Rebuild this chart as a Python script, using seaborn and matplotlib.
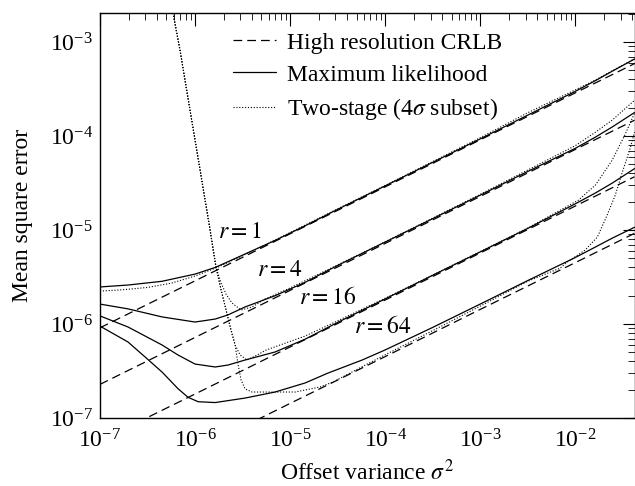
import numpy as np
import matplotlib
matplotlib.use("Agg")
import matplotlib.pyplot as plt
from matplotlib.lines import Line2D
from matplotlib.ticker import LogLocator, NullFormatter
import seaborn as sns

# ---------------- data ----------------
X_TAIL = [3.16e-5, 1.0e-4, 3.16e-4, 1.0e-3, 3.16e-3, 1.0e-2, 1.63e-2, 2.45e-2, 4.2e-2]

ML_R1_X = [1.0e-7, 1.97e-7, 4.5e-7, 1.0e-6, 1.63e-6, 3.36e-6, 6.95e-6, 1.44e-5] + X_TAIL
ML_R1 = [2.48e-6, 2.6e-6, 2.85e-6, 3.40e-6, 4.0e-6, 5.56e-6, 7.75e-6, 1.11e-5,
         1.66e-5, 2.95e-5, 5.25e-5, 9.33e-5, 1.67e-4, 2.99e-4, 3.89e-4, 4.9e-4, 6.6e-4]
ML_R4_X = [1.0e-7, 1.97e-7, 4.5e-7, 1.0e-6, 1.63e-6, 2.22e-6, 3.36e-6, 6.95e-6, 1.44e-5] + X_TAIL
ML_R4 = [1.63e-6, 1.45e-6, 1.19e-6, 1.05e-6, 1.13e-6, 1.25e-6, 1.52e-6, 2.0e-6, 2.78e-6,
         4.2e-6, 7.45e-6, 1.32e-5, 2.35e-5, 4.2e-5, 7.4e-5, 9.75e-5, 1.25e-4, 1.78e-4]
ML_R16_X = [1.0e-7, 1.97e-7, 4.5e-7, 6.62e-7, 1.0e-6, 1.63e-6, 2.22e-6, 3.36e-6, 6.95e-6,
            1.44e-5] + X_TAIL
ML_R16 = [1.22e-6, 9.3e-7, 5.98e-7, 4.68e-7, 3.75e-7, 3.49e-7, 3.66e-7, 4.14e-7, 5.04e-7,
          6.9e-7, 1.04e-6, 1.85e-6, 3.3e-6, 5.85e-6, 1.04e-5, 1.9e-5, 2.48e-5, 3.16e-5, 4.5e-5]
ML_R64_X = [1.0e-7, 1.97e-7, 2.98e-7, 4.5e-7, 6.62e-7, 8.44e-7, 1.08e-6, 1.63e-6, 3.36e-6,
            6.95e-6, 1.44e-5, 2.51e-5, 5.73e-5, 1.0e-4, 3.16e-4, 1.0e-3, 3.16e-3, 1.0e-2,
            1.63e-2, 2.45e-2, 4.2e-2]
ML_R64 = [9.5e-7, 6.44e-7, 4.46e-7, 3.08e-7, 2.05e-7, 1.66e-7, 1.49e-7, 1.46e-7, 1.63e-7,
          1.89e-7, 2.36e-7, 3.01e-7, 4.14e-7, 5.3e-7, 9.2e-7, 1.63e-6, 2.9e-6, 5.1e-6,
          6.6e-6, 8.2e-6, 1.07e-5]

X_CRLB = [1.0e-7, 1.0e-6, 1.0e-5, 1.0e-4, 1.0e-3, 1.0e-2, 4.2e-2]
CRLB_R1 = [9.12e-7, 2.88e-6, 9.12e-6, 2.88e-5, 9.12e-5, 2.88e-4, 5.90e-4]
CRLB_R4 = [2.28e-7, 7.2e-7, 2.28e-6, 7.2e-6, 2.28e-5, 7.2e-5, 1.475e-4]
CRLB_R16 = [5.7e-8, 1.8e-7, 5.7e-7, 1.8e-6, 5.7e-6, 1.8e-5, 3.69e-5]
CRLB_R64 = [1.43e-8, 4.5e-8, 1.43e-7, 4.5e-7, 1.43e-6, 4.5e-6, 9.22e-6]

TS_R1_X = [1.0e-7, 1.78e-7, 3.16e-7, 5.62e-7, 1.0e-6, 1.78e-6, 3.16e-6, 5.62e-6, 1.0e-5,
           3.16e-5, 1.0e-4, 3.16e-4, 1.0e-3, 3.16e-3, 1.0e-2, 1.63e-2, 2.45e-2, 4.2e-2]
TS_R1_Y = [2.24e-6, 2.32e-6, 2.45e-6, 2.72e-6, 3.24e-6, 4.07e-6, 5.35e-6, 7.05e-6, 9.4e-6,
           1.68e-5, 2.98e-5, 5.35e-5, 9.6e-5, 1.77e-4, 3.1e-4, 3.95e-4, 4.95e-4, 6.65e-4]

TS_R4_X = [4.7e-7, 5.86e-7, 6.95e-7, 8.85e-7, 1.13e-6, 1.44e-6, 1.66e-6, 1.88e-6, 2.12e-6,
           2.45e-6, 3.05e-6, 3.98e-6, 5.46e-6, 1.0e-5, 3.16e-5, 1.0e-4, 3.16e-4, 1.0e-3,
           3.16e-3, 1.0e-2, 1.63e-2, 2.45e-2, 4.2e-2]
TS_R4_Y = [5.0e-3, 2.04e-3, 8.2e-4, 1.89e-4, 4.35e-5, 1.0e-5, 4.04e-6, 2.73e-6, 2.08e-6,
           1.67e-6, 1.41e-6, 1.52e-6, 1.85e-6, 2.42e-6, 4.25e-6, 7.5e-6, 1.34e-5, 2.4e-5,
           4.35e-5, 7.9e-5, 1.10e-4, 1.48e-4, 2.4e-4]

TS_R16_X = [4.7e-7, 5.86e-7, 6.95e-7, 8.85e-7, 1.13e-6, 1.44e-6, 1.66e-6, 1.88e-6, 2.12e-6,
            2.39e-6, 2.64e-6, 2.98e-6, 3.52e-6, 4.5e-6, 5.58e-6, 7.85e-6, 1.44e-5, 3.16e-5,
            1.0e-4, 3.16e-4, 1.0e-3, 3.16e-3, 1.08e-2, 1.63e-2, 2.45e-2, 3.33e-2, 4.2e-2]
TS_R16_Y = [5.0e-3, 2.04e-3, 8.2e-4, 1.89e-4, 4.35e-5, 1.0e-5, 4.04e-6, 2.30e-6, 1.41e-6,
            8.63e-7, 5.98e-7, 4.68e-7, 4.14e-7, 4.68e-7, 5.28e-7, 5.98e-7, 7.45e-7, 1.08e-6,
            1.88e-6, 3.32e-6, 5.9e-6, 1.05e-5, 2.08e-5, 3.01e-5, 5.56e-5, 1.03e-4, 1.75e-4]

TS_R64_X = [4.7e-7, 5.86e-7, 6.95e-7, 8.85e-7, 1.13e-6, 1.44e-6, 1.66e-6, 1.88e-6, 2.12e-6,
            2.39e-6, 2.64e-6, 2.84e-6, 3.05e-6, 3.36e-6, 3.98e-6, 5.46e-6, 7.85e-6, 1.13e-5,
            2.07e-5, 2.84e-5, 6.47e-5, 1.0e-4, 3.16e-4, 1.0e-3, 3.16e-3, 6.95e-3, 8.24e-3,
            1.27e-2, 1.71e-2, 2.17e-2, 2.64e-2, 3.13e-2, 3.79e-2, 4.2e-2]
TS_R64_Y = [5.0e-3, 2.04e-3, 8.2e-4, 1.89e-4, 4.35e-5, 1.0e-5, 4.04e-6, 2.30e-6, 1.41e-6,
            8.63e-7, 5.98e-7, 3.66e-7, 2.54e-7, 2.04e-7, 1.89e-7, 1.89e-7, 1.89e-7, 1.89e-7,
            2.14e-7, 2.42e-7, 3.75e-7, 4.7e-7, 8.5e-7, 1.55e-6, 2.85e-6, 3.94e-6, 4.57e-6,
            6.12e-6, 8.43e-6, 1.45e-5, 2.36e-5, 4.14e-5, 7.45e-5, 1.1e-4]

R_LABELS = ["$r = 1$", "$r = 4$", "$r = 16$", "$r = 64$"]
R_LABEL_X = [2.98e-6, 7.85e-6, 2.45e-5, 9.5e-5]
R_LABEL_Y = [9.5e-6, 3.75e-6, 1.89e-6, 9.3e-7]

LEGEND_LABELS = ["High resolution CRLB", "Maximum likelihood", "Two-stage (4$\\sigma$ subset)"]
XLABEL = "Offset variance $\\sigma^2$"
YLABEL = "Mean square error"
XLIM = (1.0e-7, 4.2e-2)
YLIM = (1.0e-7, 2.04e-3)

# ---------------- style ----------------
FS = 17
sns.set_theme(style="white")
plt.rcParams.update({
    "font.family": ["Liberation Serif", "DejaVu Serif"],
    "mathtext.fontset": "stix",
    "font.size": FS,
    "axes.edgecolor": "black",
    "axes.linewidth": 1.0,
    "xtick.direction": "in",
    "ytick.direction": "in",
    "xtick.top": True,
    "ytick.right": True,
    "xtick.color": "black",
    "ytick.color": "black",
    "text.color": "black",
    "axes.labelcolor": "black",
})

fig = plt.figure(figsize=(6.35, 4.86), dpi=100)
ax = fig.add_axes([100 / 635, 68 / 486, 534.5 / 635, 405 / 486])

LW = 0.9
DASH = (7.0, 4.0)
DOT = (1.0, 1.6)

for yv in [CRLB_R1, CRLB_R4, CRLB_R16, CRLB_R64]:
    sns.lineplot(x=X_CRLB, y=yv, ax=ax, color="black", lw=LW, estimator=None,
                 sort=False, linestyle=(0, DASH))
for xv, yv in [(ML_R1_X, ML_R1), (ML_R4_X, ML_R4), (ML_R16_X, ML_R16), (ML_R64_X, ML_R64)]:
    sns.lineplot(x=xv, y=yv, ax=ax, color="black", lw=LW, estimator=None, sort=False)
for xv, yv in [(TS_R1_X, TS_R1_Y), (TS_R4_X, TS_R4_Y), (TS_R16_X, TS_R16_Y), (TS_R64_X, TS_R64_Y)]:
    sns.lineplot(x=xv, y=yv, ax=ax, color="black", lw=0.8, estimator=None, sort=False,
                 linestyle=(0, DOT))

ax.set_xscale("log")
ax.set_yscale("log")
ax.set_xlim(*XLIM)
ax.set_ylim(*YLIM)

for axis in (ax.xaxis, ax.yaxis):
    axis.set_major_locator(LogLocator(base=10, numticks=20))
    axis.set_minor_locator(LogLocator(base=10, subs=np.arange(2, 10), numticks=20))
    axis.set_minor_formatter(NullFormatter())
ax.tick_params(which="major", length=9, width=0.8, labelsize=FS)
ax.tick_params(axis="x", which="major", pad=8)
ax.tick_params(axis="y", which="major", pad=5)
ax.tick_params(which="minor", length=5, width=0.6)

ax.set_xlabel(XLABEL, fontsize=FS, labelpad=5)
ax.set_ylabel(YLABEL, fontsize=FS, labelpad=12)

for lab, lx, ly in zip(R_LABELS, R_LABEL_X, R_LABEL_Y):
    ax.text(lx, ly, lab, fontsize=FS, ha="center", va="center")

handles = [
    Line2D([], [], color="black", lw=LW, linestyle=(0, DASH)),
    Line2D([], [], color="black", lw=LW),
    Line2D([], [], color="black", lw=0.8, linestyle=(0, DOT)),
]
ax.legend(handles, LEGEND_LABELS, loc="upper left", bbox_to_anchor=(0.249, 0.953),
          frameon=False, fontsize=FS, handlelength=1.8, handletextpad=0.5,
          labelspacing=0.45, borderpad=0.0, borderaxespad=0.0)

for s in ax.spines.values():
    s.set_visible(True)
    s.set_color("black")

fig.savefig("out.png", dpi=100)
